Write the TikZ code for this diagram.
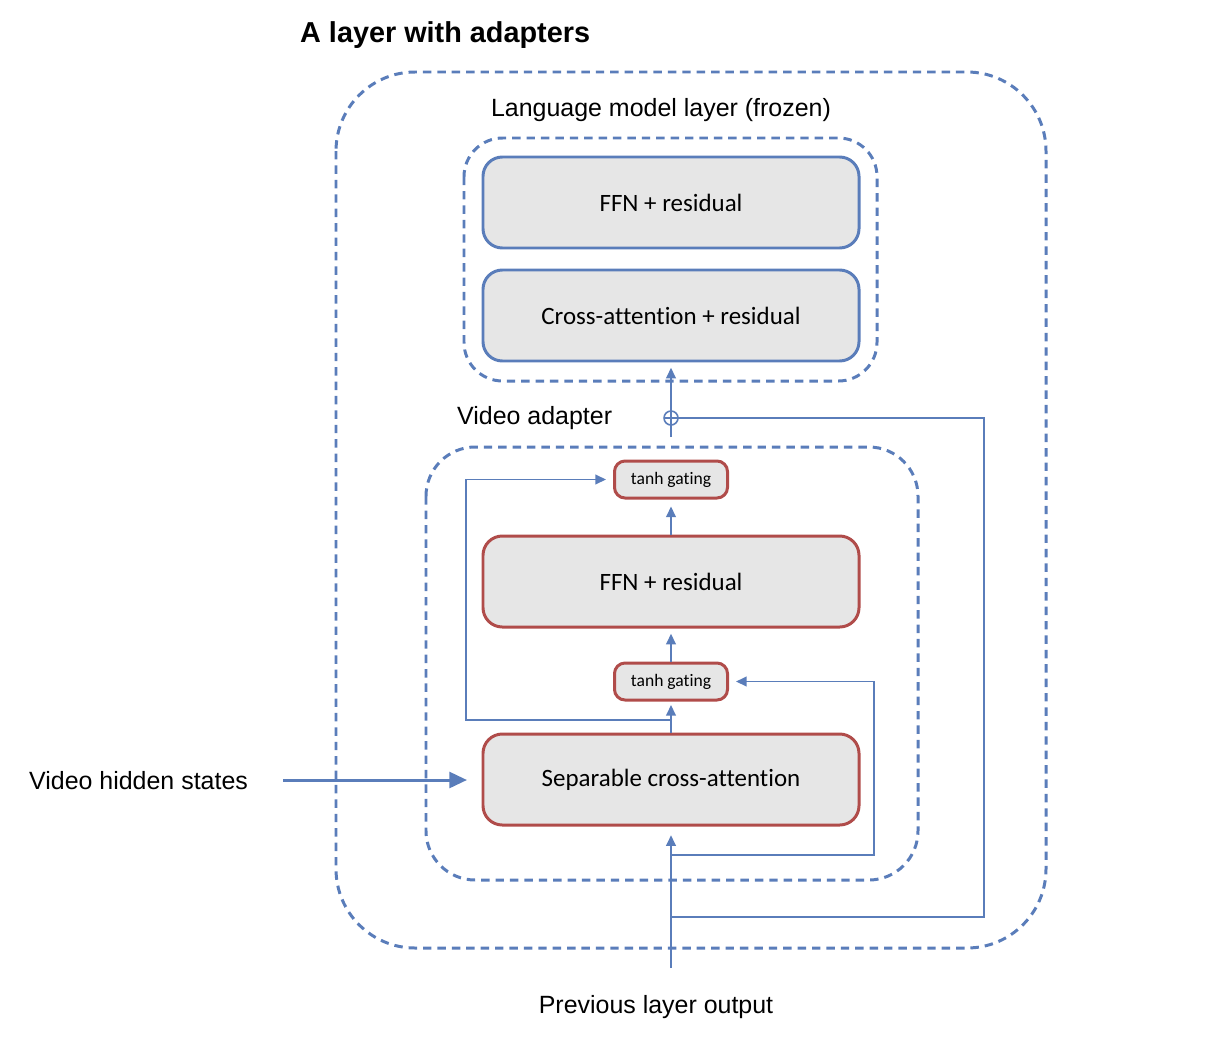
\documentclass[tikz,border=0pt]{standalone}
\usepackage{fontspec}
\setmainfont{Liberation Sans}
\newfontfamily\boxfont[Ligatures = NoCommon]{Carlito}
\usetikzlibrary{arrows.meta}
\definecolor{lineblue}{HTML}{5A7DBA}
\definecolor{boxred}{HTML}{B04C4A}
\definecolor{boxgray}{HTML}{E6E6E6}
\tikzset{
	frozenbox/.style = {draw = lineblue, line width = 1.7pt, fill = boxgray, rounded corners = 11pt, minimum width = 376*0.02cm, minimum height = 91*0.02cm, font = \boxfont\fontsize{14.2}{16}\selectfont},
	adapterbox/.style = {frozenbox, draw = boxred},
	gatebox/.style = {adapterbox, rounded corners = 6pt, minimum width = 113*0.02cm, minimum height = 37*0.02cm, font = \boxfont\fontsize{10}{12}\selectfont},
	groupline/.style = {draw = lineblue, line width = 1.7pt, dash pattern = on 4.8pt off 3.4pt},
	label/.style = {font = \fontsize{14.2}{17}\selectfont},
	link/.style = {draw = lineblue, line width = .9pt},
	arr/.style = {link, -{Triangle[length = 6pt, width = 5.5pt]}}
}
\begin{document}
\begin{tikzpicture}[x = .02cm, y = -.02cm]
	\useasboundingbox (0,0) rectangle (1227,1045);
	\node[anchor = west, font = \bfseries\fontsize{16.4}{19}\selectfont] (title) at (294,35) {A layer with adapters};
	\draw[groupline, rounded corners = 45pt] (336,72) rectangle (1046,948); %whole layer
	% language model layer
	\node[label] (lmlabel) at (661,110) {Language model layer (frozen)};
	\draw[groupline, rounded corners = 22pt] (464,138) rectangle (877,381);
	\node[frozenbox] (lmffn) at (671,202.5) {FFN + residual};
	\node[frozenbox] (lmcross) at (671,315.5) {Cross-attention + residual};
	% video adapter
	\node[anchor = west, label] (valabel) at (451,418) {Video adapter};
	\draw[groupline, rounded corners = 28pt] (426,447) rectangle (918,880);
	\node[gatebox] (gatetop) at (671,479.5) {tanh gating};
	\node[adapterbox] (vaffn) at (671,581.5) {FFN + residual};
	\node[gatebox] (gatelow) at (671,681.5) {tanh gating};
	\node[adapterbox] (sepattn) at (671,779.5) {Separable cross-attention};
	% inputs
	\node[anchor = west, label] (hidden) at (23,781) {Video hidden states};
	\node[label] (prevout) at (656,1007) {Previous layer output};
	\coordinate (hiddenend) at (283,780);
	\coordinate (prevstart) at (671,968);
	\coordinate (skipin) at (671,917);
	\coordinate (gatein) at (671,855);
	\coordinate (sepout) at (671,720);
	% sum
	\draw[link, fill = white] (671,418) circle (7);
	\node[circle, minimum size = 14*0.02cm, inner sep = 0pt] (plus) at (671,418) {};
	\draw[link] (664,418) -- (678,418) (671,411) -- (671,425);
	% connectors
	\draw[link, line width = 1.7pt, -{Triangle[length = 10pt, width = 9pt]}] (hiddenend) -- (467,780);
	\draw[arr] (prevstart) -- ([yshift = -5pt]sepattn.south);
	\draw[arr] (gatein) -| (874,681.5) -- ([xshift = 4pt]gatelow.east);
	\draw[link] (skipin) -| (984,418) -- (plus.east);
	\draw[arr] (sepattn.north) -- ([yshift = -2pt]gatelow.south);
	\draw[arr] (sepout) -| (466,479.5) -- ([xshift = -4pt]gatetop.west);
	\draw[arr] (gatelow.north) -- ([yshift = -3pt]vaffn.south);
	\draw[arr] (vaffn.north) -- ([yshift = -4pt]gatetop.south);
	\draw[link] (671,437) -- (plus.south);
	\draw[arr] (plus.north) -- ([yshift = -3pt]lmcross.south);
\end{tikzpicture}
\end{document}
